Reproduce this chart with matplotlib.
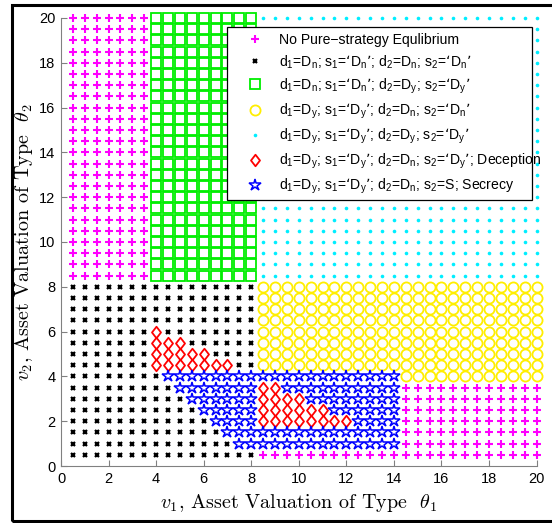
import numpy as np
import matplotlib
matplotlib.use('Agg')
import matplotlib.pyplot as plt
from matplotlib.patches import Rectangle
from matplotlib.path import Path

plt.rcParams['font.family'] = ['Liberation Sans', 'DejaVu Sans']

# grid of valuations (v1 along x, v2 along y)
v1_values = np.arange(1, 41) * 0.5
v2_values = np.arange(40, 0, -1) * 0.5   # rows listed top (20) -> bottom (0.5)

# equilibrium type at each grid point, one string per v2 row (top to bottom)
# P no pure eq, X Dn/Dn, S Dn/Dy, O Dy/Dn, C Dy/Dy, D deception, T secrecy
region_map = (
    ['PPPPPPP' + 'SSSSSSSSS' + 'C' * 24] * 24 +          # v2 = 20 .. 8.5
    ['X' * 16 + 'O' * 24] * 4 +                          # v2 = 8 .. 6.5
    ['X' * 7 + 'D' + 'X' * 8 + 'O' * 24,                 # 6.0
     'X' * 7 + 'D' * 3 + 'X' * 6 + 'O' * 24,             # 5.5
     'X' * 7 + 'D' * 5 + 'X' * 4 + 'O' * 24,             # 5.0
     'X' * 7 + 'D' * 7 + 'X' * 2 + 'O' * 24,             # 4.5
     'X' * 8 + 'T' * 20 + 'O' * 12,                      # 4.0
     'X' * 9 + 'T' * 7 + 'D' * 2 + 'T' * 10 + 'P' * 12,  # 3.5
     'X' * 10 + 'T' * 6 + 'D' * 4 + 'T' * 8 + 'P' * 12,  # 3.0
     'X' * 11 + 'T' * 5 + 'D' * 6 + 'T' * 6 + 'P' * 12,  # 2.5
     'X' * 12 + 'T' * 4 + 'D' * 8 + 'T' * 4 + 'P' * 12,  # 2.0
     'X' * 13 + 'T' * 15 + 'P' * 12,                     # 1.5
     'X' * 14 + 'T' * 14 + 'P' * 12,                     # 1.0
     'X' * 16 + 'P' * 24]                                # 0.5
)

codes = ['P', 'X', 'S', 'O', 'C', 'D', 'T']
# (d1, s1, d2, s2, suffix) for each strategy entry
strategies = [
    ('n', 'n', 'n', 'n', ''),
    ('n', 'n', 'y', 'y', ''),
    ('y', 'y', 'n', 'n', ''),
    ('y', 'y', 'y', 'y', ''),
    ('y', 'y', 'n', 'y', '; Deception'),
    ('y', 'y', 'n', 'S', '; Secrecy'),
]


def sub(t):
    return r'$_\mathregular{' + t + '}$'


def strategy_label(d1, s1, d2, s2, suffix):
    lq, rq = '\u2018', '\u2019'
    txt = 'd' + sub('1') + '=D' + sub(d1) + '; s' + sub('1') + '=' + lq + 'D' + sub(s1) + rq
    txt += '; d' + sub('2') + '=D' + sub(d2) + '; s' + sub('2') + '='
    if s2 == 'S':
        txt += 'S'
    else:
        txt += lq + 'D' + sub(s2) + rq
    return txt + suffix


labels = ['No Pure\u2212strategy Equlibrium'] + [strategy_label(*s) for s in strategies]

# matlab-like diamond (a bit taller than wide)
diamond = Path([(0, 1), (0.78, 0), (0, -1), (-0.78, 0), (0, 1)],
               [Path.MOVETO, Path.LINETO, Path.LINETO, Path.LINETO, Path.CLOSEPOLY])

styles = {
    'P': dict(marker='+', color='#ff00ff', ms=6.2, mew=1.5),
    'X': dict(marker='x', color='black', ms=3.3, mew=1.6),
    'S': dict(marker='s', color='#00ee00', mfc='none', ms=6.6, mew=1.3),
    'O': dict(marker='o', color='#ffee00', mfc='none', ms=7.3, mew=1.3),
    'C': dict(marker='o', color='#00eeff', ms=2.6, mew=0),
    'D': dict(marker=diamond, color='#ff0000', mfc='none', ms=8.3, mew=1.3),
    'T': dict(marker='*', color='#0000ff', mfc='none', ms=8.6, mew=1.1),
}

grid = np.array([list(r) for r in region_map])
V1, V2 = np.meshgrid(v1_values, v2_values)

fig = plt.figure(figsize=(5.52, 5.23), dpi=100)
ax = fig.add_axes([61 / 552, 57 / 523, 475.5 / 552, 448 / 523])

for code, lab in zip(codes, labels):
    mask = grid == code
    ax.plot(V1[mask], V2[mask], linestyle='none', label=lab, clip_on=False, **styles[code])

ax.set_xlim(0, 20)
ax.set_ylim(0, 20)
ax.set_xticks(np.arange(0, 21, 2))
ax.set_yticks(np.arange(0, 21, 2))
ax.tick_params(direction='in', length=4, color='#808080', labelsize=10.5, pad=4)
for s in ['top', 'right']:
    ax.spines[s].set_visible(False)
for s in ['left', 'bottom']:
    ax.spines[s].set_color('#808080')

ax.set_xlabel(r'$v_1$, Asset Valuation of Type  $\theta_1$', fontfamily='cmr10',
              math_fontfamily='cm', fontsize=14.5, labelpad=5)
ax.set_ylabel(r'$v_2$, Asset Valuation of Type  $\theta_2$', fontfamily='cmr10',
              math_fontfamily='cm', fontsize=14.5, labelpad=3)

# legend box drawn separately (matlab lets the text run up to the edge)
ax.add_patch(Rectangle((0.349, 0.5938), 0.9905 - 0.349, 0.980 - 0.5938,
                       transform=ax.transAxes, facecolor='white', edgecolor='black',
                       lw=0.9, zorder=4, clip_on=False))
leg = ax.legend(loc='upper left', bbox_to_anchor=(0.3866, 0.966), fontsize=10.1,
                frameon=False, borderpad=0, labelspacing=0.42, handletextpad=1.0,
                handlelength=1.45, borderaxespad=0)
leg.set_zorder(5)

# thick outer frame
fig.patches.append(Rectangle((11.5 / 552, 2.5 / 523), 1.0, (518 - 2.5) / 523,
                             transform=fig.transFigure, fill=False, lw=2.2,
                             edgecolor='black'))

fig.savefig('out.png', dpi=100)
